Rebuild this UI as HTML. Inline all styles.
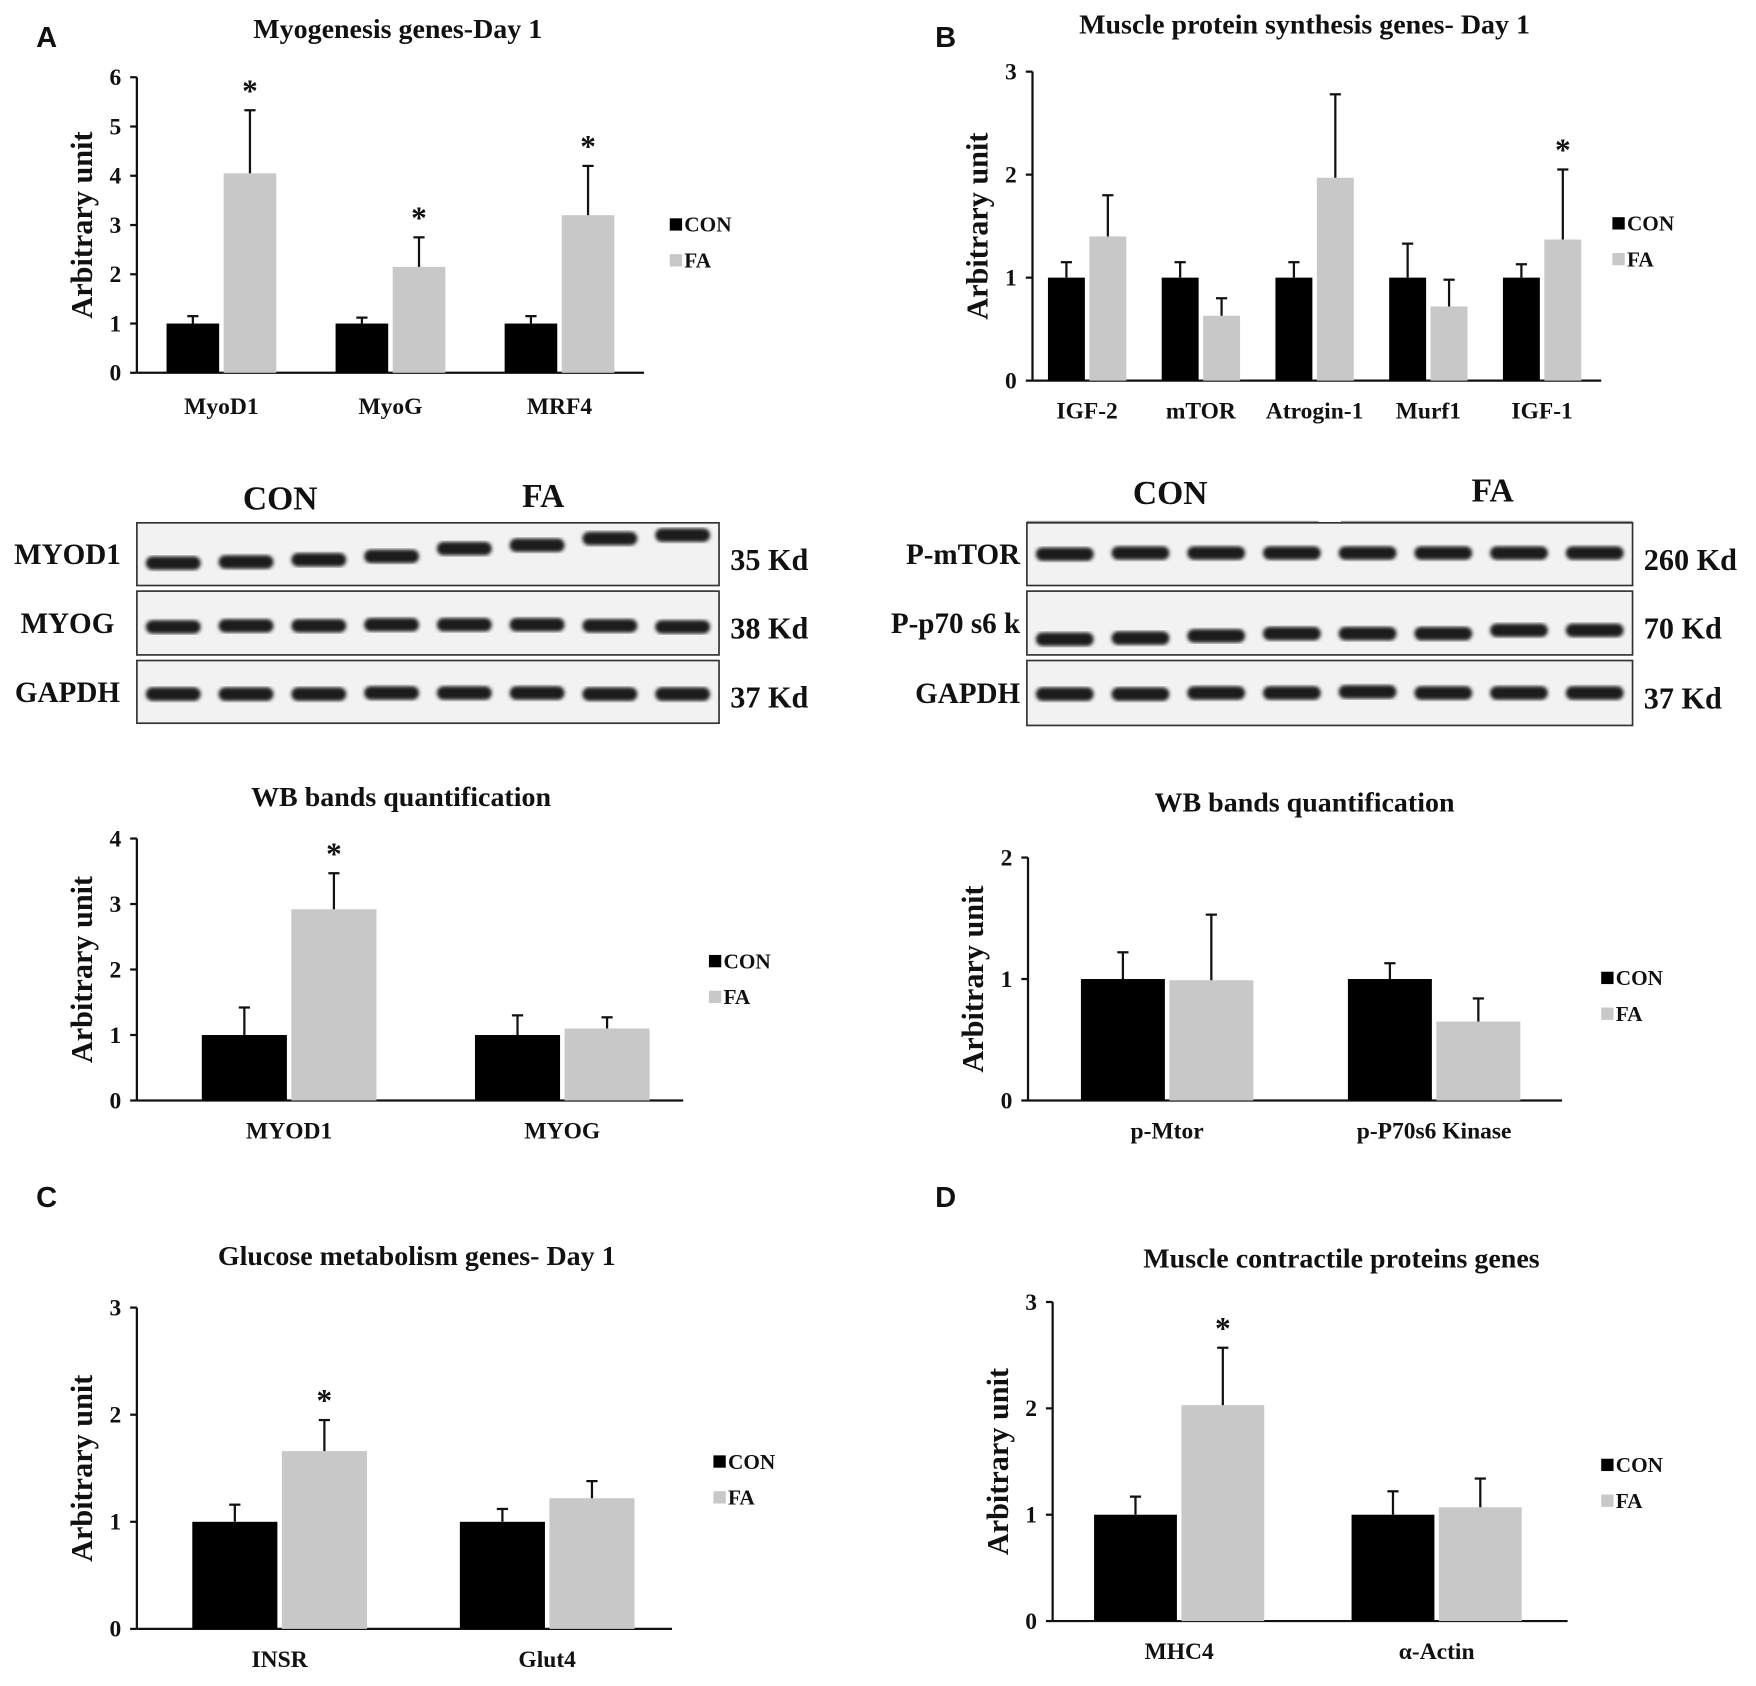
<!DOCTYPE html>
<html><head><meta charset="utf-8"><style>
html,body{margin:0;padding:0;background:#fff}
svg{display:block}
text{font-family:"Liberation Serif",serif;font-weight:bold;fill:#111}
.lab{font-family:"Liberation Sans",sans-serif;font-size:26px}
</style></head><body>
<svg id="fig" width="1756" height="1686" viewBox="0 0 1568 1506" xmlns="http://www.w3.org/2000/svg">
<defs><filter id="bl"><feGaussianBlur stdDeviation="1.6"/></filter></defs>
<text class="lab" x="32" y="42">A</text>
<text class="lab" x="835" y="42">B</text>
<text class="lab" x="32" y="1078">C</text>
<text class="lab" x="835" y="1078">D</text>
<g id="charts"></g>
<g id="blots"></g>
</svg>
<script>
// Panel A genes
const aCats=["MyoD1","MyoG","MRF4"];
const aCon=[1,1,1];const aConErr=[0.15,0.12,0.15];
const aFa=[4.05,2.15,3.2];const aFaErr=[1.28,0.6,1.0];
const aStar=[true,true,true];
const aTicks=[0,1,2,3,4,5,6];
// Panel B genes
const bCats=["IGF-2","mTOR","Atrogin-1","Murf1","IGF-1"];
const bCon=[1,1,1,1,1];const bConErr=[0.15,0.15,0.15,0.33,0.13];
const bFa=[1.4,0.63,1.97,0.72,1.37];const bFaErr=[0.4,0.17,0.81,0.26,0.68];
const bStar=[false,false,false,false,true];
const bTicks=[0,1,2,3];
// WB A
const waCats=["MYOD1","MYOG"];
const waCon=[1,1];const waConErr=[0.42,0.3];
const waFa=[2.92,1.1];const waFaErr=[0.55,0.17];
const waStar=[true,false];
const waTicks=[0,1,2,3,4];
// WB B
const wbCats=["p-Mtor","p-P70s6 Kinase"];
const wbCon=[1,1];const wbConErr=[0.22,0.13];
const wbFa=[0.99,0.65];const wbFaErr=[0.54,0.19];
const wbStar=[false,false];
const wbTicks=[0,1,2];
// C
const cCats=["INSR","Glut4"];
const cCon=[1,1];const cConErr=[0.16,0.12];
const cFa=[1.66,1.22];const cFaErr=[0.29,0.16];
const cStar=[true,false];
const cTicks=[0,1,2,3];
// D
const dCats=["MHC4","\u03b1-Actin"];
const dCon=[1,1];const dConErr=[0.17,0.22];
const dFa=[2.03,1.07];const dFaErr=[0.54,0.27];
const dStar=[true,false];
const dTicks=[0,1,2,3];

const NS="http://www.w3.org/2000/svg";
function mk(p,tag,at,txt){const e=document.createElementNS(NS,tag);for(const k in at)e.setAttribute(k,at[k]);if(txt!==undefined)e.textContent=txt;p.appendChild(e);return e;}
const root=document.getElementById('charts');

function chart(o,cats,con,conE,fa,faE,star,ticks){
  const g=mk(root,'g',{});
  
  
  const max=ticks[ticks.length-1];
  const y=v=>o.y0-(o.y0-o.yTop)*v/max;
  const t=mk(g,'text',{x:o.tx,y:o.ty,'text-anchor':'middle','font-size':25},o.title);
  
  
  const yt=mk(g,'text',{x:0,y:0,'text-anchor':'middle','font-size':27,transform:`translate(${o.x0-40},${(o.y0+o.yTop)/2}) rotate(-90)`},'Arbitrary unit');
  
  
  mk(g,'line',{x1:o.x0,y1:o.yTop,x2:o.x0,y2:o.y0,stroke:'#111','stroke-width':2});
  mk(g,'line',{x1:o.x0,y1:o.y0,x2:o.x1,y2:o.y0,stroke:'#111','stroke-width':2});
  ticks.forEach(v=>{
    mk(g,'line',{x1:o.x0-6,y1:y(v),x2:o.x0,y2:y(v),stroke:'#111','stroke-width':2});
    const tl=mk(g,'text',{x:o.x0-14,y:y(v)+7,'text-anchor':'end','font-size':21},String(v));
    
    
  });
  const gw=(o.x1-o.x0)/cats.length;
  cats.forEach((c,i)=>{
    const cx=o.x0+gw*(i+0.5)+o.shift;
    [[con[i],conE[i],'#000',-1],[fa[i],faE[i],'#c8c8c8',1]].forEach(([v,e,col,s])=>{
      const x=s<0?cx-2-o.bw:cx+2;
      const r=mk(g,'rect',{x:x,y:y(v),width:o.bw,height:o.y0-y(v),fill:col});
      
      
      const mx=x+o.bw/2;
      mk(g,'line',{x1:mx,y1:y(v),x2:mx,y2:y(v+e),stroke:'#111','stroke-width':2});
      mk(g,'line',{x1:mx-5,y1:y(v+e),x2:mx+5,y2:y(v+e),stroke:'#111','stroke-width':2});
      if(s>0&&star[i]){const st=mk(g,'text',{x:mx,y:y(v+e)-8,'text-anchor':'middle','font-size':28,'font-weight':'normal'},'*');
        
        }
    });
    const xl=mk(g,'text',{x:cx,y:o.y0+o.lblDy,'text-anchor':'middle','font-size':21},c);
    
    
  });
  [['CON','#000'],['FA','#c8c8c8']].forEach(([n,col],k)=>{
    const ly=o.ly+k*32;
    const sq=mk(g,'rect',{x:o.lx,y:ly-12,width:11,height:11,fill:col});
    
    
    const lt=mk(g,'text',{x:o.lx+13,y:ly,'font-size':19},n);
    
    
  });
}
chart({name:'chart-myogenesis',title:'Myogenesis genes-Day 1',tx:355,ty:34,x0:122,x1:575,y0:333,yTop:69,bw:47,shift:0,lblDy:37,lx:598,ly:207},aCats,aCon,aConErr,aFa,aFaErr,aStar,aTicks);
chart({name:'chart-protein-synthesis',title:'Muscle protein synthesis genes- Day 1',tx:1165,ty:30,x0:922,x1:1430,y0:340,yTop:64,bw:33,shift:-2,lblDy:34,lx:1440,ly:206},bCats,bCon,bConErr,bFa,bFaErr,bStar,bTicks);
chart({name:'chart-wb-a',title:'WB bands quantification',tx:358,ty:720,x0:122,x1:610,y0:983,yTop:749,bw:76,shift:14,lblDy:34,lx:633,ly:865},waCats,waCon,waConErr,waFa,waFaErr,waStar,waTicks);
chart({name:'chart-wb-b',title:'WB bands quantification',tx:1165,ty:725,x0:918,x1:1395,y0:983,yTop:766,bw:75,shift:5,lblDy:34,lx:1430,ly:880},wbCats,wbCon,wbConErr,wbFa,wbFaErr,wbStar,wbTicks);
chart({name:'chart-glucose',title:'Glucose metabolism genes- Day 1',tx:372,ty:1130,x0:122,x1:600,y0:1455,yTop:1168,bw:76,shift:8,lblDy:34,lx:637,ly:1312},cCats,cCon,cConErr,cFa,cFaErr,cStar,cTicks);
chart({name:'chart-contractile',title:'Muscle contractile proteins genes',tx:1198,ty:1132,x0:940,x1:1400,y0:1448,yTop:1163,bw:74,shift:-2,lblDy:34,lx:1430,ly:1315},dCats,dCon,dConErr,dFa,dFaErr,dStar,dTicks);

// Western blots
const blotsA=[["MYOD1","35 Kd",467,523,[503,502,500,497,490,487,481,478]],["MYOG","38 Kd",528,585,[560,559,559,558,558,558,559,560]],["GAPDH","37 Kd",590,646,[620,620,620,619,619,619,620,620]]];
const blotsB=[["P-mTOR","260 Kd",467,523,[495,494,494,494,494,494,494,494]],["P-p70 s6 k","70 Kd",528,585,[571,570,568,566,566,566,563,563]],["GAPDH","37 Kd",590,648,[620,620,619,619,618,619,619,619]]];
const bl=document.getElementById('blots');
function blot(name,x0,x1,rows,conX,faX,hy,ll,anchor,rl){
  const g=mk(bl,'g',{});
  
  
  const mid=(x0+x1)/2;
  const c=mk(g,'text',{x:conX,y:hy,'text-anchor':'middle','font-size':30},'CON');
  
  
  const f=mk(g,'text',{x:faX,y:hy-2,'text-anchor':'middle','font-size':30},'FA');
  
  
  mk(g,'line',{x1:x0,y1:hy+16,x2:mid-10,y2:hy+16,stroke:'#999','stroke-width':1.5});
  mk(g,'line',{x1:mid+10,y1:hy+16,x2:x1,y2:hy+16,stroke:'#999','stroke-width':1.5});
  const lw=(x1-x0)/8;
  rows.forEach(([n,kd,t,b,ys])=>{
    const r=mk(g,'rect',{x:x0,y:t,width:x1-x0,height:b-t,fill:'#f2f2f2',stroke:'#333','stroke-width':1.5});
    
    
    ys.forEach((yy,i)=>{
      mk(g,'rect',{x:x0+lw*i+8,y:yy-6,width:lw-16,height:12,rx:6,fill:'#1a1a1a',filter:'url(#bl)'});
    });
    const l=mk(g,'text',{x:ll,y:(t+b)/2+9,'text-anchor':anchor,'font-size':26},n);
    
    
    const k=mk(g,'text',{x:rl,y:(t+b)/2+14,'font-size':27},kd);
    
    
  });
}
blot('western-blot-a',122,642,blotsA,250,485,455,60,'middle',652);
blot('western-blot-b',917,1458,blotsB,1045,1333,450,911,'end',1468);
</script>
</body></html>
